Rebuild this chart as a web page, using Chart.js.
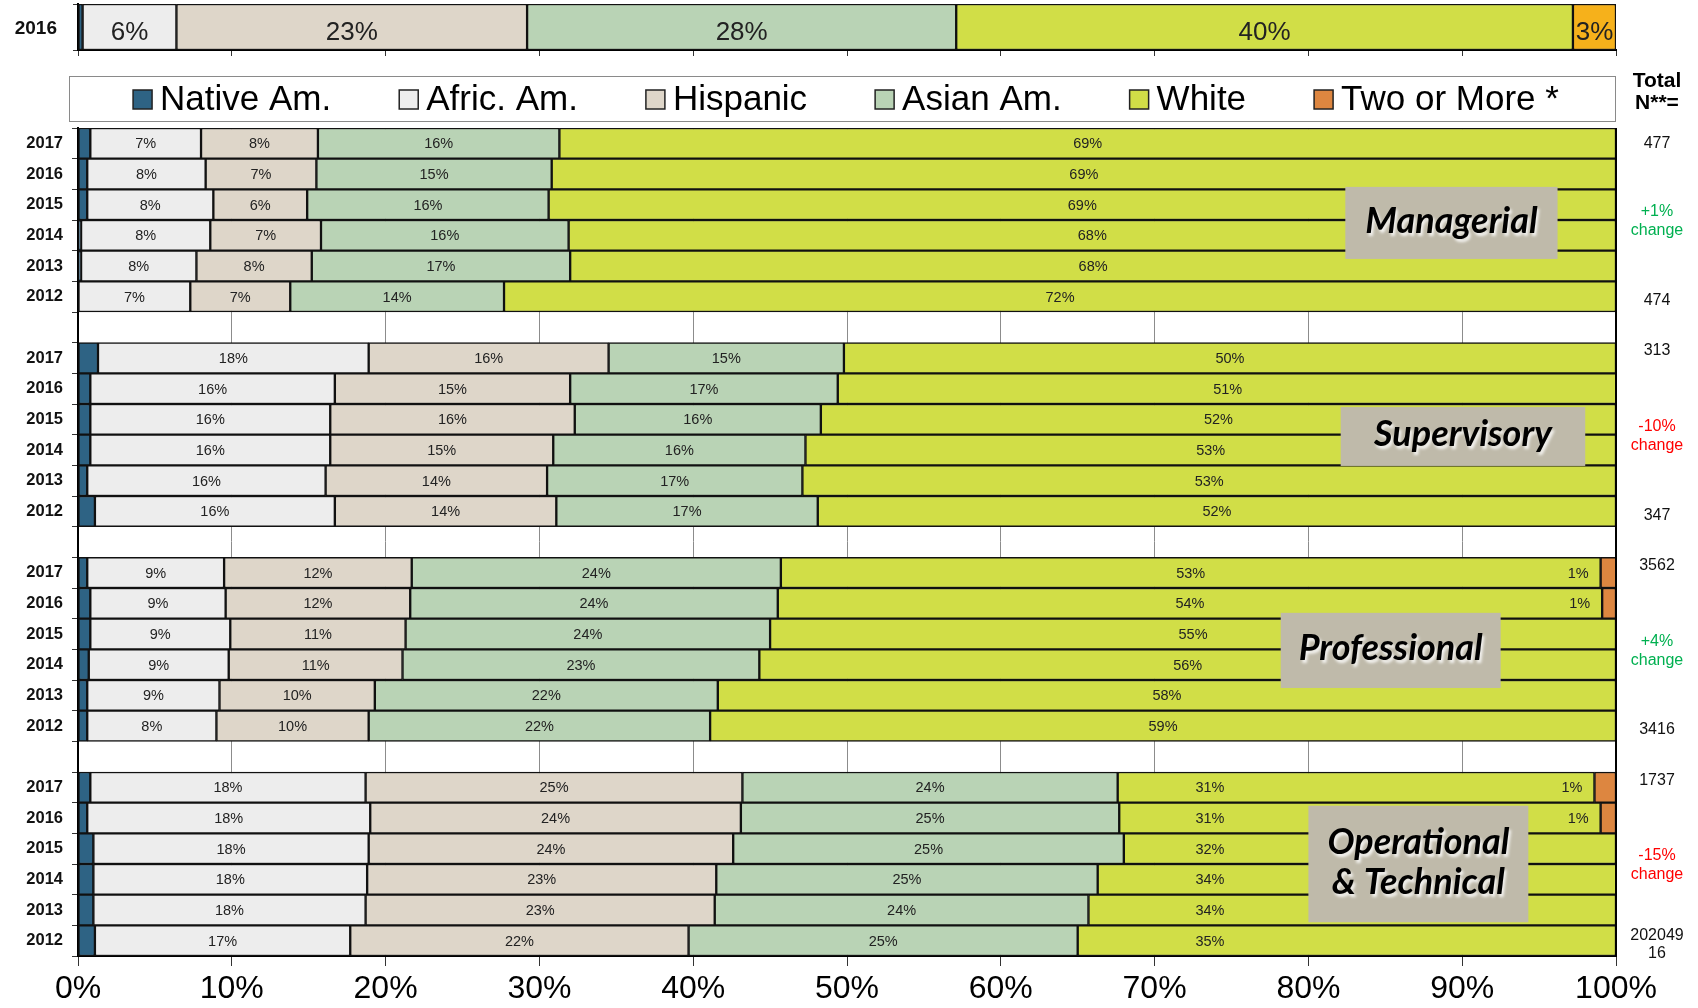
<!DOCTYPE html>
<html>
<head>
<meta charset="utf-8">
<script src="https://cdn.jsdelivr.net/npm/chart.js@4.4.1/dist/chart.umd.min.js"></script>
<style>
  body { margin: 0; background: #fff; }
  #page { position: relative; width: 1698px; height: 1008px; }
  #mainWrap { position: absolute; left: 0; top: 0; width: 1698px; height: 1008px; }
  #topWrap { position: absolute; left: 0; top: 0; width: 1698px; height: 70px; z-index: 2; }
</style>
</head>
<body>
<div id="page">
  <div id="mainWrap"><canvas id="mainChart"></canvas></div>
  <div id="topWrap"><canvas id="topChart"></canvas></div>
</div>
<script>
const FONT = "'Liberation Sans', Arial, sans-serif";

const seriesNames = ['Native Am.', 'Afric. Am.', 'Hispanic', 'Asian Am.', 'White', 'Two or More *'];
const seriesColors = ['#2E6384', '#EDEDED', '#DED6C9', '#B9D3B5', '#D1DE47', '#DD8640'];
const topTwoColor = '#F6B11B';

const years = ['2017', '2016', '2015', '2014', '2013', '2012'];
const groupNames = [['Managerial'], ['Supervisory'], ['Professional'], ['Operational', '& Technical']];
const groupTotals = [['477', '474'], ['313', '347'], ['3562', '3416'], ['1737', '202049\n16']];
const groupChange = ['+1%', '-10%', '+4%', '-15%'];

// overall 2016 bar at the top
const overall2016 = [0.3, 6.1, 22.8, 27.9, 40.1, 2.8];

// each group: rows 2017 .. 2012
const nativeAm = [
  [0.8, 0.6, 0.6, 0.2, 0.2, 0],
  [1.3, 0.8, 0.8, 0.8, 0.6, 1.1],
  [0.6, 0.8, 0.8, 0.7, 0.6, 0.6],
  [0.8, 0.6, 1.0, 1.0, 1.0, 1.1]
];
const africAm = [
  [7.2, 7.7, 8.2, 8.4, 7.5, 7.3],
  [17.6, 15.9, 15.6, 15.6, 15.5, 15.6],
  [8.9, 8.8, 9.1, 9.1, 8.6, 8.4],
  [17.9, 18.4, 17.9, 17.8, 17.7, 16.6]
];
const hispanic = [
  [7.6, 7.2, 6.1, 7.2, 7.5, 6.5],
  [15.6, 15.3, 15.9, 14.5, 14.4, 14.4],
  [12.2, 12.0, 11.4, 11.3, 10.1, 9.9],
  [24.5, 24.1, 23.7, 22.7, 22.7, 22.0]
];
const asianAm = [
  [15.7, 15.3, 15.7, 16.1, 16.8, 13.9],
  [15.3, 17.4, 16.0, 16.4, 16.6, 17.0],
  [24.0, 23.9, 23.7, 23.2, 22.3, 22.2],
  [24.4, 24.6, 25.4, 24.8, 24.3, 25.3]
];
const white = [
  [68.7, 69.2, 69.4, 68.1, 68.0, 72.3],
  [50.2, 50.7, 51.7, 52.7, 52.9, 51.9],
  [53.3, 53.6, 55.0, 55.7, 58.4, 58.9],
  [31.0, 31.3, 32.0, 33.8, 34.3, 35.0]
];
const twoOrMore = [
  [null, null, null, null, null, null],
  [null, null, null, null, null, null],
  [1.1, 0.9, null, null, null, null],
  [1.4, 1.0, null, null, null, null]
];

// label boxes (x in %, y in row units)
const groupBoxes = [
  { x0: 82.4, x1: 96.2, y0: 1.92, y1: 4.27 },
  { x0: 82.1, x1: 98.0, y0: 9.10, y1: 11.02 },
  { x0: 78.2, x1: 92.5, y0: 15.81, y1: 18.26 },
  { x0: 80.0, x1: 94.3, y0: 22.1, y1: 25.9 }
];
// where the White labels sit when the box would hide them (x in %)
const whiteLabelAt = [null, null, null, 73.6];

function buildRows(groups) {
  let out = [];
  groups.forEach((g, i) => {
    if (i > 0) out.push(null);
    out.push(...g);
  });
  return out;
}

const rowLabels = buildRows(groupNames.map(() => years)).map(v => v == null ? '' : v);
const allSeries = [nativeAm, africAm, hispanic, asianAm, white, twoOrMore];

const mainDatasets = allSeries.map((s, i) => ({
  label: seriesNames[i],
  data: buildRows(s),
  backgroundColor: seriesColors[i],
  borderColor: '#111',
  borderWidth: 1.5,
  borderSkipped: false,
  barPercentage: 1,
  categoryPercentage: 1
}));

//Labels inside segments
function segmentLabels(fontSize, twoOffset, labelX, dy) {
  return {
    id: 'segLabels' + fontSize,
    afterDatasetsDraw(chart) {
      const ctx = chart.ctx;
      const xs = chart.scales.x;
      ctx.save();
      ctx.font = fontSize + 'px ' + FONT;
      ctx.fillStyle = '#222';
      ctx.textBaseline = 'middle';
      chart.data.datasets.forEach((ds, di) => {
        if (di == 0) return;
        const meta = chart.getDatasetMeta(di);
        meta.data.forEach((el, j) => {
          const v = ds.data[j];
          if (v == null) return;
          const txt = Math.round(v) + '%';
          const left = Math.min(el.x, el.base), right = Math.max(el.x, el.base);
          if (di == 5 && twoOffset) {
            ctx.textAlign = 'right';
            ctx.fillText(txt, left - twoOffset, el.y + dy);
          } else {
            ctx.textAlign = 'center';
            let cx = (left + right) / 2;
            const g = Math.floor(j / 7);
            if (di == 4 && labelX && labelX[g] != null) cx = xs.getPixelForValue(labelX[g]);
            ctx.fillText(txt, cx, el.y + dy);
          }
        });
      });
      ctx.restore();
    }
  };
}

const extras = {
  id: 'extras',
  afterDraw(chart) {
    const ctx = chart.ctx;
    const area = chart.chartArea;
    const xs = chart.scales.x, ys = chart.scales.y;
    ctx.save();

    // right border
    ctx.strokeStyle = '#000';
    ctx.lineWidth = 2;
    ctx.beginPath();
    ctx.moveTo(area.right, area.top);
    ctx.lineTo(area.right, area.bottom);
    ctx.stroke();

    // legend box
    ctx.fillStyle = '#fff';
    ctx.fillRect(69, 76, 1546, 45);
    ctx.strokeStyle = '#8a8a8a';
    ctx.lineWidth = 1;
    ctx.strokeRect(69.5, 76.5, 1546, 45);
    ctx.font = '35px ' + FONT;
    ctx.textBaseline = 'middle';
    ctx.textAlign = 'left';
    const sq = 19, gapIn = 8, gapOut = 68;
    let widths = seriesNames.map(n => sq + gapIn + ctx.measureText(n).width);
    let total = widths.reduce((a, b) => a + b, 0) + gapOut * (widths.length - 1);
    let lx = 846 - total / 2;
    seriesNames.forEach((n, i) => {
      ctx.fillStyle = seriesColors[i];
      ctx.fillRect(lx, 90, sq, sq);
      ctx.strokeStyle = '#222';
      ctx.lineWidth = 1.5;
      ctx.strokeRect(lx, 90, sq, sq);
      ctx.fillStyle = '#000';
      ctx.fillText(n, lx + sq + gapIn, 100);
      lx += widths[i] + gapOut;
    });

    // Total N header
    ctx.textAlign = 'center';
    ctx.font = 'bold 21px ' + FONT;
    ctx.fillText('Total', 1657, 81);
    ctx.fillText('N**=', 1657, 103);

    // right side numbers + change
    ctx.font = '16px ' + FONT;
    groupTotals.forEach((t, g) => {
      const start = g * 7;
      ctx.fillStyle = '#111';
      ctx.fillText(t[0], 1657, ys.getPixelForValue(start) - (g ? 7 : 0));
      const lines = t[1].split('\n');
      const yb = ys.getPixelForValue(start + 5);
      lines.forEach((l, k) => ctx.fillText(l, 1657, yb + (k - (lines.length - 1) / 2) * 18 + 4));
      ctx.fillStyle = groupChange[g][0] == '+' ? '#00B050' : '#FF0000';
      const yc = ys.getPixelForValue(start + 2.5);
      ctx.fillText(groupChange[g], 1657, yc - 8);
      ctx.fillText('change', 1657, yc + 11);
    });

    // group name boxes
    const rowH = (area.bottom - area.top) / rowLabels.length;
    groupBoxes.forEach((b, g) => {
      const x0 = xs.getPixelForValue(b.x0), x1 = xs.getPixelForValue(b.x1);
      const y0 = area.top + b.y0 * rowH, y1 = area.top + b.y1 * rowH;
      ctx.fillStyle = '#BFBAAA';
      ctx.fillRect(x0, y0, x1 - x0, y1 - y0);
      ctx.font = 'italic bold 36px Lato, sans-serif';
      ctx.textAlign = 'center';
      ctx.shadowColor = 'rgba(255,255,255,0.85)';
      ctx.shadowBlur = 3;
      ctx.shadowOffsetX = 2;
      ctx.shadowOffsetY = 3;
      ctx.fillStyle = '#000';
      const names = groupNames[g];
      names.forEach((n, k) => {
        ctx.fillText(n, (x0 + x1) / 2, (y0 + y1) / 2 - 2 + (k - (names.length - 1) / 2) * 40);
      });
      ctx.shadowColor = 'transparent';
    });
    ctx.restore();
  }
};

const mainCtx = document.getElementById('mainChart').getContext('2d');
const mainChart = new Chart(mainCtx, {
  type: 'bar',
  data: { labels: rowLabels, datasets: mainDatasets },
  options: {
    indexAxis: 'y',
    responsive: true,
    maintainAspectRatio: false,
    animation: false,
    layout: { padding: { top: 128, right: 82, left: 0, bottom: 0 } },
    plugins: { legend: { display: false }, tooltip: { enabled: false } },
    scales: {
      x: {
        stacked: true,
        min: 0,
        max: 100,
        afterFit(s) { s.height = 52; },
        ticks: { stepSize: 10, callback: v => v + '%', font: { family: FONT, size: 32 }, color: '#000', padding: 4, maxRotation: 0 },
        grid: { color: '#8c8c8c', lineWidth: 1, tickLength: 10, tickColor: '#333' },
        border: { color: '#000', width: 2 }
      },
      y: {
        stacked: true,
        afterFit(s) { s.width = 78; },
        ticks: { font: { family: FONT, size: 16.5, weight: 'bold' }, color: '#111', padding: 9, autoSkip: false },
        grid: { drawOnChartArea: false, tickLength: 6, tickColor: '#333' },
        border: { color: '#000', width: 2 }
      }
    }
  },
  plugins: [segmentLabels(14.5, 12, whiteLabelAt, 1), extras]
});

// top 2016 label drawn by hand so the axis does not pad the small chart
const topYearLabel = {
  id: 'topYearLabel',
  afterDraw(chart) {
    const ctx = chart.ctx;
    const el = chart.getDatasetMeta(0).data[0];
    ctx.save();
    ctx.font = 'bold 19px ' + FONT;
    ctx.fillStyle = '#111';
    ctx.textAlign = 'right';
    ctx.textBaseline = 'middle';
    ctx.fillText(chart.data.labels[0], 57, el.y + 2);
    ctx.restore();
  }
};

const topCtx = document.getElementById('topChart').getContext('2d');
const topChart = new Chart(topCtx, {
  type: 'bar',
  data: {
    labels: ['2016'],
    datasets: overall2016.map((v, i) => ({
      label: seriesNames[i],
      data: [v],
      backgroundColor: i == 5 ? topTwoColor : seriesColors[i],
      borderColor: '#111',
      borderWidth: 1.5,
      borderSkipped: false,
      barPercentage: 1,
      categoryPercentage: 1
    }))
  },
  options: {
    indexAxis: 'y',
    responsive: true,
    maintainAspectRatio: false,
    animation: false,
    layout: { padding: { top: 4, right: 82, left: 0, bottom: 0 } },
    plugins: { legend: { display: false }, tooltip: { enabled: false } },
    scales: {
      x: {
        stacked: true,
        min: 0,
        max: 100,
        afterFit(s) { s.height = 20; },
        ticks: { stepSize: 10, color: 'transparent', font: { size: 2 }, padding: 0 },
        grid: { drawOnChartArea: false, tickLength: 6, tickColor: '#333' },
        border: { color: '#000', width: 2 }
      },
      y: {
        stacked: true,
        afterFit(s) { s.width = 78; },
        ticks: { color: 'transparent', font: { size: 2 }, padding: 0 },
        grid: { drawOnChartArea: false, tickLength: 5, tickColor: '#333' },
        border: { color: '#000', width: 2 }
      }
    }
  },
  plugins: [segmentLabels(26, 0, null, 6), topYearLabel]
});
</script>
</body>
</html>
